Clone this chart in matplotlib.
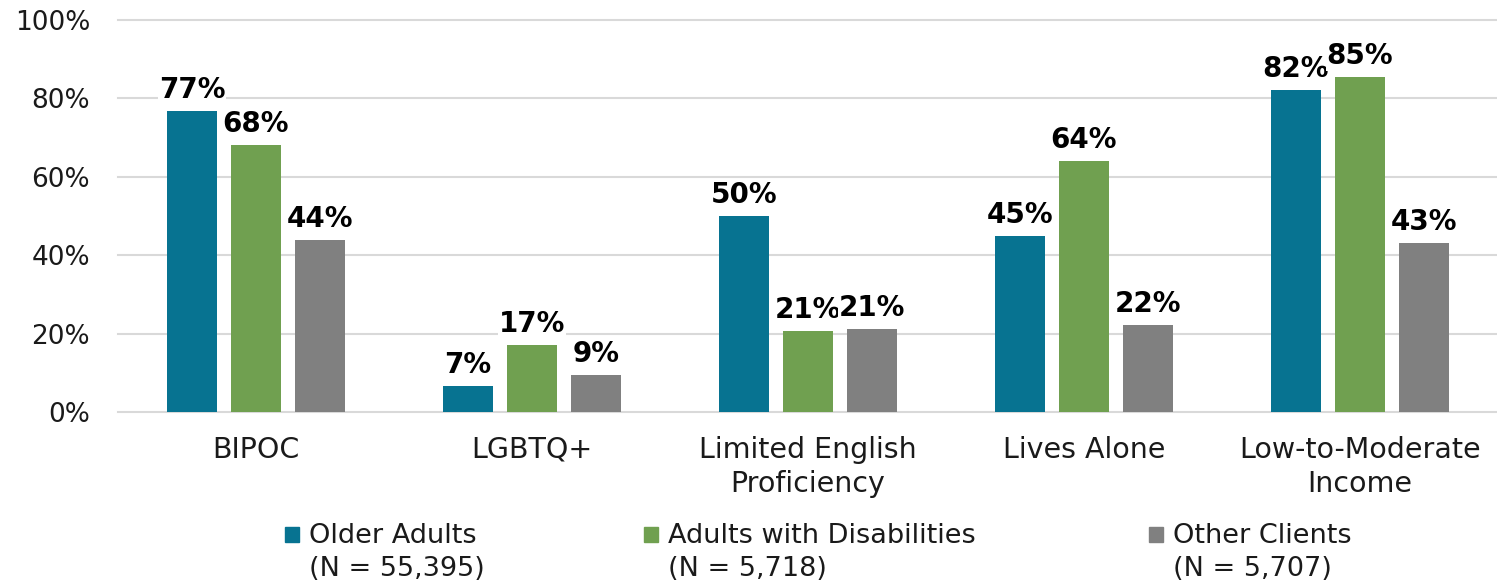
import matplotlib.pyplot as plt
import numpy as np
from matplotlib.patches import Rectangle

# Share of each client group in each category (percent)
categories = ['BIPOC', 'LGBTQ+', 'Limited English\nProficiency', 'Lives Alone', 'Low-to-Moderate\nIncome']
older_adults = [76.8, 6.6, 50.0, 44.9, 82.1]
adults_disab = [68.1, 17.1, 20.6, 64.0, 85.4]
other_clients = [43.9, 9.4, 21.2, 22.2, 43.1]

series_names = ['Older Adults', 'Adults with Disabilities', 'Other Clients']
series_n = ['(N = 55,395)', '(N = 5,718)', '(N = 5,707)']
colors = ['#077391', '#70a050', '#808080']
yticks = [0, 20, 40, 60, 80, 100]

W, H = 1497, 585
fig = plt.figure(figsize=(W / 100, H / 100), dpi=100)
ax = fig.add_axes([118 / W, 1 - 412 / H, 1380 / W, 392 / H])

x = np.arange(len(categories))
width = 0.178
step = 0.232
for i, (vals, col) in enumerate(zip([older_adults, adults_disab, other_clients], colors)):
    bars = ax.bar(x + (i - 1) * step, vals, width, color=col, zorder=3)
    labels = ax.bar_label(bars, labels=['{:.0f}%'.format(v) for v in vals], padding=5,
                          fontsize=20, fontweight='bold', color='black', zorder=4)
    for t in labels:
        t.set_bbox(dict(facecolor='white', edgecolor='none', pad=0.5))

ax.set_xlim(-0.5, len(categories) - 0.5)
ax.set_ylim(0, 100)
ax.set_yticks(yticks)
ax.set_yticklabels(['{}%'.format(v) for v in yticks])
ax.set_xticks(x)
ax.set_xticklabels(categories, linespacing=1.3)
ax.tick_params(axis='y', length=0, pad=20, labelsize=19, labelcolor='#1a1a1a')
ax.tick_params(axis='x', length=0, pad=17, labelsize=20.5, labelcolor='#1a1a1a')
ax.yaxis.grid(True, color='#d9d9d9', linewidth=1.5, zorder=0)
for g in ax.get_ygridlines():
    g.set_clip_on(False)
for s in ax.spines.values():
    s.set_visible(False)

# legend drawn by hand so the square sits next to the first line
legend_x = [285, 644, 1149]
for lx, name, n, col in zip(legend_x, series_names, series_n, colors):
    fig.patches.append(Rectangle((lx / W, 1 - 542 / H), 14 / W, 15 / H,
                                 transform=fig.transFigure, color=col))
    fig.text((lx + 24) / W, 1 - 543 / H, name, fontsize=19.5, color='#1a1a1a', va='baseline')
    fig.text((lx + 24) / W, 1 - 576 / H, n, fontsize=19.5, color='#1a1a1a', va='baseline')

fig.savefig('out.png', dpi=100)
